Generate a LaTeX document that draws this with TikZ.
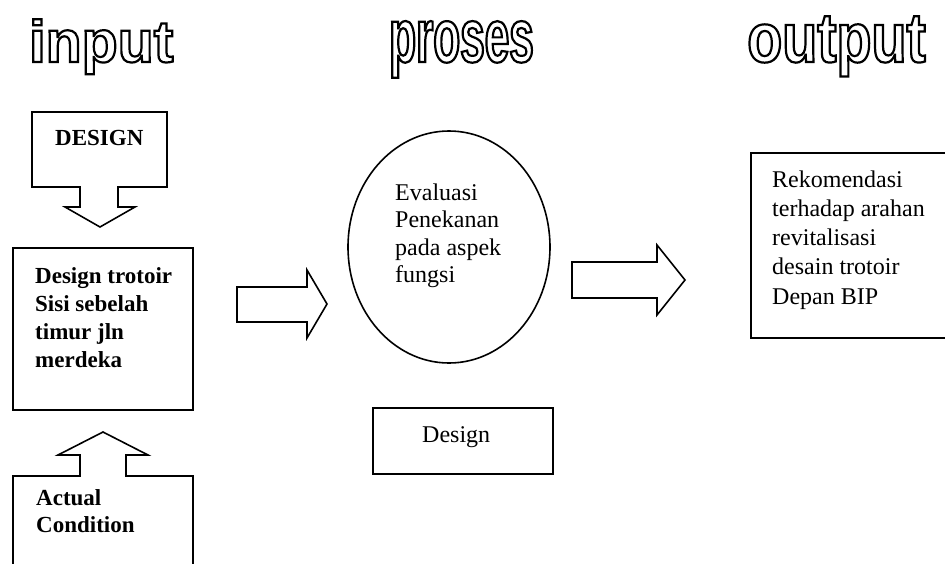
\documentclass[tikz,border=0pt]{standalone}
\usepackage{fontspec}
\setmainfont{Liberation Serif}
\newfontfamily\tin{Liberation Sans}
\newfontfamily\tpr{Liberation Sans}[FakeStretch=0.58]
\newfontfamily\tout{Liberation Sans}[FakeStretch=0.82]
\newcommand{\hollowtext}[1]{\special{pdf:literal direct 1 Tr 2.2 w}#1\special{pdf:literal direct 0 Tr 1 w}}
\usetikzlibrary{shapes.geometric}
\tikzset{
  shapeline/.style={draw=black, line width=1.6pt, line join=miter, fill=white},
  boxnode/.style={draw=black, line width=1.6pt, rectangle, anchor=north west, inner sep=0pt},
  boxtext/.style={anchor=base west, inner sep=0pt, align=left},
  titletext/.style={anchor=base west, inner sep=0pt, text=black},
  boldtext/.style={font=\bfseries\fontsize{23}{28}\selectfont},
  plaintext/.style={font=\fontsize{24}{27.5}\selectfont},
}
\begin{document}
\begin{tikzpicture}[x=1pt,y=-1pt]
\useasboundingbox (0,0) rectangle (945,563);
\clip (0,0) rectangle (945,563);
\fill[white] (0,0) rectangle (945,563);

% titles
\node[titletext, font=\tin\bfseries\fontsize{59}{60}\selectfont] (tinput) at (29,62) {\hollowtext{input}};
\node[titletext, font=\tpr\bfseries\fontsize{76}{78}\selectfont] (tproses) at (389,62) {\hollowtext{proses}};
\node[titletext, font=\tout\bfseries\fontsize{70}{70}\selectfont] (toutput) at (747,62) {\hollowtext{output}};

% DESIGN callout with down arrow
\draw[shapeline] (32,112) -- (167,112) -- (167,187) -- (118,187) -- (118,207) -- (135,207) -- (100,227) -- (65,207) -- (80,207) -- (80,187) -- (32,187) -- cycle;
\node[boxtext, boldtext] (design) at (55,145) {DESIGN};

% main input box
\node[boxnode, minimum width=180pt, minimum height=162pt] (inbox) at (12,247) {};
\node[boxtext, boldtext] (intext) at (35,367) {Design trotoir\\Sisi sebelah\\timur jln\\merdeka};

% Actual condition callout with up arrow
\draw[shapeline] (13,476) -- (80,476) -- (80,455) -- (58,455) -- (103,432) -- (148,455) -- (126,455) -- (126,476) -- (193,476) -- (193,600) -- (13,600) -- cycle;
\node[boxtext, font=\bfseries\fontsize{23}{27}\selectfont] (actual) at (36,532) {Actual\\Condition};

% block arrow input -> process
\draw[shapeline] (237,287) -- (307,287) -- (307,270) -- (327,304) -- (307,338) -- (307,322) -- (237,322) -- cycle;

% process ellipse
\node[draw=black, line width=1.6pt, ellipse, minimum width=202pt, minimum height=232pt, inner sep=0pt] (eval) at (449,247) {};
\node[boxtext, plaintext] (evaltext) at (395,282.5) {Evaluasi\\Penekanan\\pada aspek\\fungsi};

% design box under ellipse
\node[boxnode, minimum width=180pt, minimum height=66pt] (dbox) at (372,407) {};
\node[boxtext, plaintext] (dtext) at (422,442) {Design};

% block arrow process -> output
\draw[shapeline] (572,262) -- (657,262) -- (657,245) -- (685,280) -- (657,315) -- (657,298) -- (572,298) -- cycle;

% output box
\node[boxnode, minimum width=210pt, minimum height=185pt] (outbox) at (750,152) {};
\node[boxtext, font=\fontsize{24}{29.2}\selectfont] (outtext) at (772,304) {Rekomendasi\\terhadap arahan\\revitalisasi\\desain trotoir\\Depan BIP};
\end{tikzpicture}
\end{document}
